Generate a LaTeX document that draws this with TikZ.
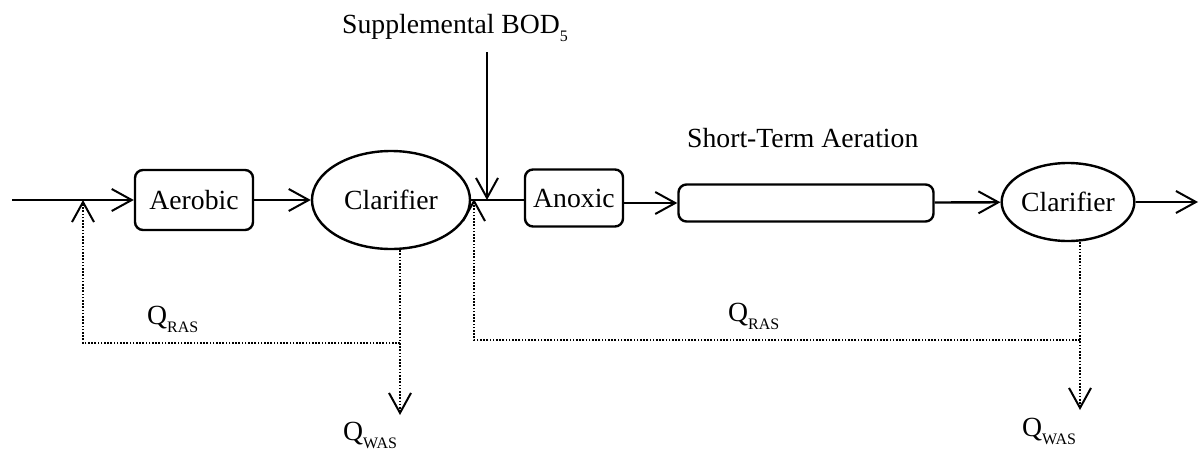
\documentclass[tikz,border=0pt]{standalone}
\usepackage{fontspec}
\setmainfont{Liberation Serif}
\usetikzlibrary{arrows.meta,shapes.geometric}
\newcommand{\caudal}[1]{Q\raisebox{-8pt}{\fontsize{16}{16}\selectfont #1}}

\begin{document}
\begin{tikzpicture}[x=1pt,y=-1pt,
    font=\fontsize{27.7}{33}\selectfont,
    flecha/.style={-{Straight Barb[length=20pt,width=22pt,line width=2pt]}, line width=2.4pt},
    linea/.style={line width=2.4pt},
    punteado/.style={line width=1.6pt, dash pattern=on 1.6pt off 1.6pt},
    caja/.style={draw, line width=2.4pt, rounded corners=8pt, inner sep=0pt},
    elipse/.style={draw, ellipse, line width=2.4pt, inner sep=0pt}]
    \useasboundingbox (0,0) rectangle (1201,458);

    % Unidades del proceso
    \node[caja, minimum width=118pt, minimum height=60pt] (aer) at (194,200) {Aerobic};
    \node[elipse, minimum width=158pt, minimum height=98pt] (clar1) at (391,200) {Clarifier};
    \node[caja, minimum width=98pt, minimum height=57pt] (anox) at (574,198) {Anoxic};
    \node[caja, minimum width=255pt, minimum height=37pt] (aire) at (806,203) {};
    \node[elipse, minimum width=117pt, minimum height=78pt] (clar2) at (1068,202) {Clarifier};

    % Textos
    \node[anchor=base west, inner sep=0pt] (sup) at (342,33) {Supplemental BOD\raisebox{-8pt}{\fontsize{16}{16}\selectfont 5}};
    \node[anchor=base west, inner sep=0pt] (corto) at (687,147) {Short-Term Aeration};
    \node[anchor=base west, inner sep=0pt] (qras1) at (147,324) {\caudal{RAS}};
    \node[anchor=base west, inner sep=0pt] (qwas1) at (343,440) {\caudal{WAS}};
    \node[anchor=base west, inner sep=0pt] (qras2) at (728,321) {\caudal{RAS}};
    \node[anchor=base west, inner sep=0pt] (qwas2) at (1022,436) {\caudal{WAS}};

    % Puntos libres
    \coordinate (entrada) at (12,200);
    \coordinate (salida) at (1198,202);
    \coordinate (bodtop) at (487,52);
    \coordinate (bodfin) at (487,200);
    \coordinate (retorno1) at (83,200);
    \coordinate (retorno2) at (474,199);
    \coordinate (purga1) at (400,343);
    \coordinate (purga2) at (1080,340);
    \coordinate (desecho1) at (400,415);
    \coordinate (desecho2) at (1080,410);

    % Linea principal
    \draw[flecha] (entrada) -- (aer);
    \draw[flecha] (aer) -- (clar1);
    \draw[linea] (clar1) -- (anox.west |- clar1);
    \draw[flecha] (anox.east |- aire) -- (aire);
    \draw[flecha] (aire) -- (clar2);
    \draw[flecha] (clar2) -- (salida);

    % Alimentacion suplementaria
    \draw[flecha] (bodtop) -- (bodfin);

    % Retornos y purgas
    \draw[flecha, punteado] (clar1.south -| purga1) -- (desecho1);
    \draw[flecha, punteado] (purga1) -- (purga1 -| retorno1) -- (retorno1);
    \draw[flecha, punteado] (clar2.south -| purga2) -- (desecho2);
    \draw[flecha, punteado] (purga2) -- (purga2 -| retorno2) -- (retorno2);
\end{tikzpicture}
\end{document}
